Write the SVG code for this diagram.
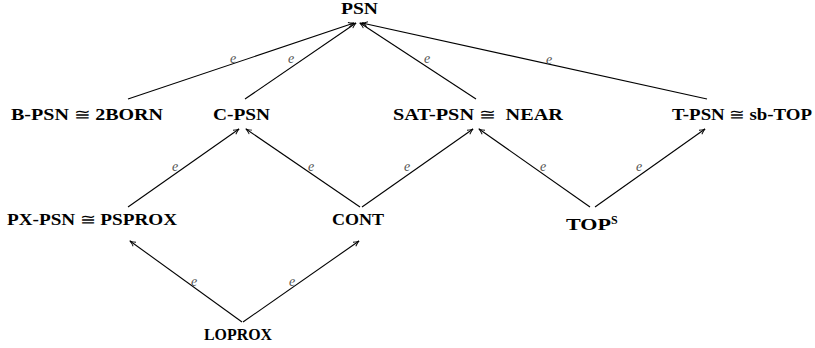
<svg xmlns="http://www.w3.org/2000/svg" width="815" height="348" viewBox="0 0 815 348">
<style>
.n{font-family:"Liberation Serif","DejaVu Serif",serif;font-weight:bold;font-size:16px;fill:#000;white-space:pre}
.n .r{font-weight:normal}
.e{font-family:"Liberation Serif","DejaVu Serif",serif;font-style:italic;font-size:14px;fill:#555;text-anchor:middle}
.c line{stroke:#000;stroke-width:1.1;fill:none;marker-end:url(#ah)}
</style>
<defs>
<marker id="ah" viewBox="0 0 10 10" refX="9" refY="5" markerWidth="7" markerHeight="7" orient="auto" markerUnits="userSpaceOnUse">
<path d="M1,1.5 Q5,4 9.5,5 Q5,6 1,8.5" fill="none" stroke="#000" stroke-width="1.3"/>
</marker>
</defs>
<rect width="815" height="348" fill="#fff"/>
<g id="n-psn"><text class="n" x="341" y="14" textLength="37" lengthAdjust="spacingAndGlyphs">PSN</text></g>
<g id="n-bpsn"><text class="n" x="11" y="120" textLength="152" lengthAdjust="spacingAndGlyphs">B-PSN <tspan class="r">≅</tspan> 2BORN</text></g>
<g id="n-cpsn"><text class="n" x="213" y="120" textLength="57" lengthAdjust="spacingAndGlyphs">C-PSN</text></g>
<g id="n-satpsn"><text class="n" x="393" y="120" textLength="170" lengthAdjust="spacingAndGlyphs">SAT-PSN <tspan class="r">≅</tspan>  NEAR</text></g>
<g id="n-tpsn"><text class="n" x="672" y="120" textLength="140" lengthAdjust="spacingAndGlyphs">T-PSN <tspan class="r">≅</tspan> sb-TOP</text></g>
<g id="n-pxpsn"><text class="n" x="7" y="225" textLength="170" lengthAdjust="spacingAndGlyphs">PX-PSN <tspan class="r">≅</tspan> PSPROX</text></g>
<g id="n-cont"><text class="n" x="332" y="225" textLength="52" lengthAdjust="spacingAndGlyphs">CONT</text></g>
<g id="n-tops"><text class="n" x="566" y="230"><tspan textLength="45" lengthAdjust="spacingAndGlyphs">TOP</tspan><tspan font-size="12" dy="-6">S</tspan></text></g>
<g id="n-loprox"><text class="n" x="204" y="340" textLength="68" lengthAdjust="spacingAndGlyphs">LOPROX</text></g>
<g id="connectors" class="c">
<line x1="128" y1="99" x2="354" y2="23"/>
<line x1="245" y1="99" x2="356" y2="23"/>
<line x1="476" y1="99" x2="360" y2="23"/>
<line x1="707" y1="99" x2="362" y2="23"/>
<line x1="128" y1="207" x2="239" y2="129"/>
<line x1="360" y1="207" x2="246" y2="129"/>
<line x1="362" y1="207" x2="473" y2="129"/>
<line x1="590" y1="207" x2="479" y2="129"/>
<line x1="595" y1="207" x2="705" y2="129"/>
<line x1="242" y1="322" x2="130" y2="241"/>
<line x1="243" y1="322" x2="359" y2="241"/>
</g>
<g id="labels">
<text class="e" x="233" y="63">e</text>
<text class="e" x="291" y="63">e</text>
<text class="e" x="427" y="63">e</text>
<text class="e" x="549" y="64">e</text>
<text class="e" x="175" y="171">e</text>
<text class="e" x="311" y="171">e</text>
<text class="e" x="407" y="171">e</text>
<text class="e" x="543" y="171">e</text>
<text class="e" x="639" y="171">e</text>
<text class="e" x="194" y="286">e</text>
<text class="e" x="292" y="286">e</text>
</g>
</svg>
